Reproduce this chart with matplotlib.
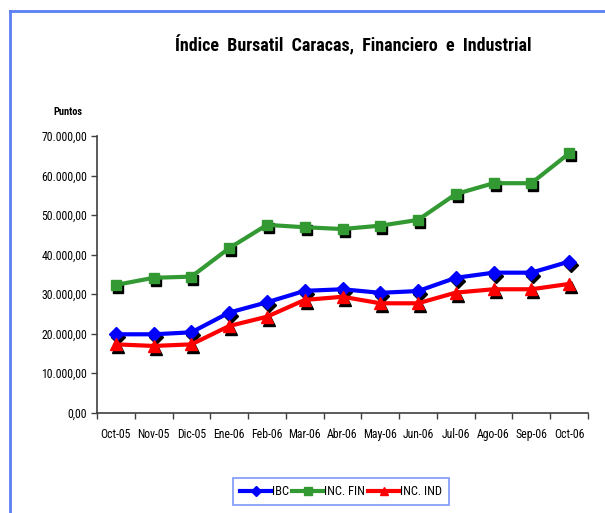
import matplotlib
matplotlib.use("Agg")
import matplotlib.pyplot as plt
from matplotlib.transforms import ScaledTranslation
from matplotlib.lines import Line2D
from matplotlib.ticker import FuncFormatter, MultipleLocator

plt.rcParams['font.family'] = ['Roboto Condensed', 'DejaVu Sans']

months = ["Oct-05", "Nov-05", "Dic-05", "Ene-06", "Feb-06", "Mar-06", "Abr-06",
          "May-06", "Jun-06", "Jul-06", "Ago-06", "Sep-06", "Oct-06"]
ibc = [19800, 19800, 20300, 25300, 27900, 30800, 31200, 30300, 30750, 34100, 35400, 35400, 38200]
inc_fin = [32300, 34100, 34400, 41600, 47500, 46900, 46450, 47300, 48750, 55300, 58050, 58050, 65600]
inc_ind = [17250, 16850, 17250, 21900, 24250, 28500, 29300, 27650, 27650, 30350, 31200, 31200, 32550]

fig = plt.figure(figsize=(6.05, 5.13), dpi=100)
W, H = 605, 513
ax = fig.add_axes([97 / W, 1 - 412.5 / H, (588 - 97) / W, (412.5 - 136) / H])

x = list(range(len(months)))
shadow = ax.transData + ScaledTranslation(2 / 100, -3 / 100, fig.dpi_scale_trans)

series = [
    (ibc, "#0000ff", "D", 7, "IBC"),
    (inc_fin, "#339933", "s", 7, "INC. FIN"),
    (inc_ind, "#ff0000", "^", 8, "INC. IND"),
]
for vals, col, mk, ms, lab in series:
    ax.plot(x, vals, linestyle="none", marker=mk, markersize=ms, color="black",
            transform=shadow, zorder=2)
for vals, col, mk, ms, lab in series:
    ax.plot(x, vals, color=col, linewidth=3, marker=mk, markersize=ms,
            markeredgecolor=col, markerfacecolor=col, zorder=3, label=lab)

ax.set_xlim(-0.5, len(months) - 0.5)
ax.set_ylim(0, 70000)
ax.yaxis.set_major_locator(MultipleLocator(10000))

def fmt(v, pos):
    s = f"{v:,.2f}"
    return s.replace(",", "X").replace(".", ",").replace("X", ".")

ax.yaxis.set_major_formatter(FuncFormatter(fmt))
ax.set_xticks(x)
ax.set_xticklabels(months)
ax.set_xticks([i - 0.5 for i in range(len(months) + 1)], minor=True)
ax.tick_params(axis="x", which="major", length=0, pad=11, labelsize=8.5)
ax.tick_params(axis="x", which="minor", length=4, direction="out", width=1, color="#404040")
ax.tick_params(axis="y", length=4, direction="out", width=1, color="#404040", labelsize=8.5, pad=3)

for s in ["top", "right"]:
    ax.spines[s].set_visible(False)
for s in ["left", "bottom"]:
    ax.spines[s].set_color("#404040")
    ax.spines[s].set_linewidth(1.2)

fig.text(353 / W, 1 - 45 / H, "Índice  Bursatil  Caracas,  Financiero  e  Industrial",
         ha="center", va="center", fontsize=13, fontweight="bold")
fig.text(53 / W, 1 - 112 / H, "Puntos", ha="left", va="center", fontsize=7.5, fontweight="bold")

# outer blue frame (top and left)
border = "#5b7ff5"
fig.add_artist(Line2D([10 / W, 1], [1 - 11 / H, 1 - 11 / H], color=border, linewidth=2,
                      transform=fig.transFigure))
fig.add_artist(Line2D([10 / W, 10 / W], [0, 1 - 11 / H], color=border, linewidth=2,
                      transform=fig.transFigure))

leg = fig.legend(loc="center", bbox_to_anchor=(341 / W, 1 - 491.5 / H), ncol=3,
                 frameon=True, fancybox=False, fontsize=9, handlelength=2.5,
                 handletextpad=0.05, columnspacing=0.25, borderpad=0.55, borderaxespad=0.2,
                 markerscale=0.8)
leg.get_frame().set_edgecolor(border)
leg.get_frame().set_linewidth(1.2)

fig.savefig("out.png", dpi=100)
